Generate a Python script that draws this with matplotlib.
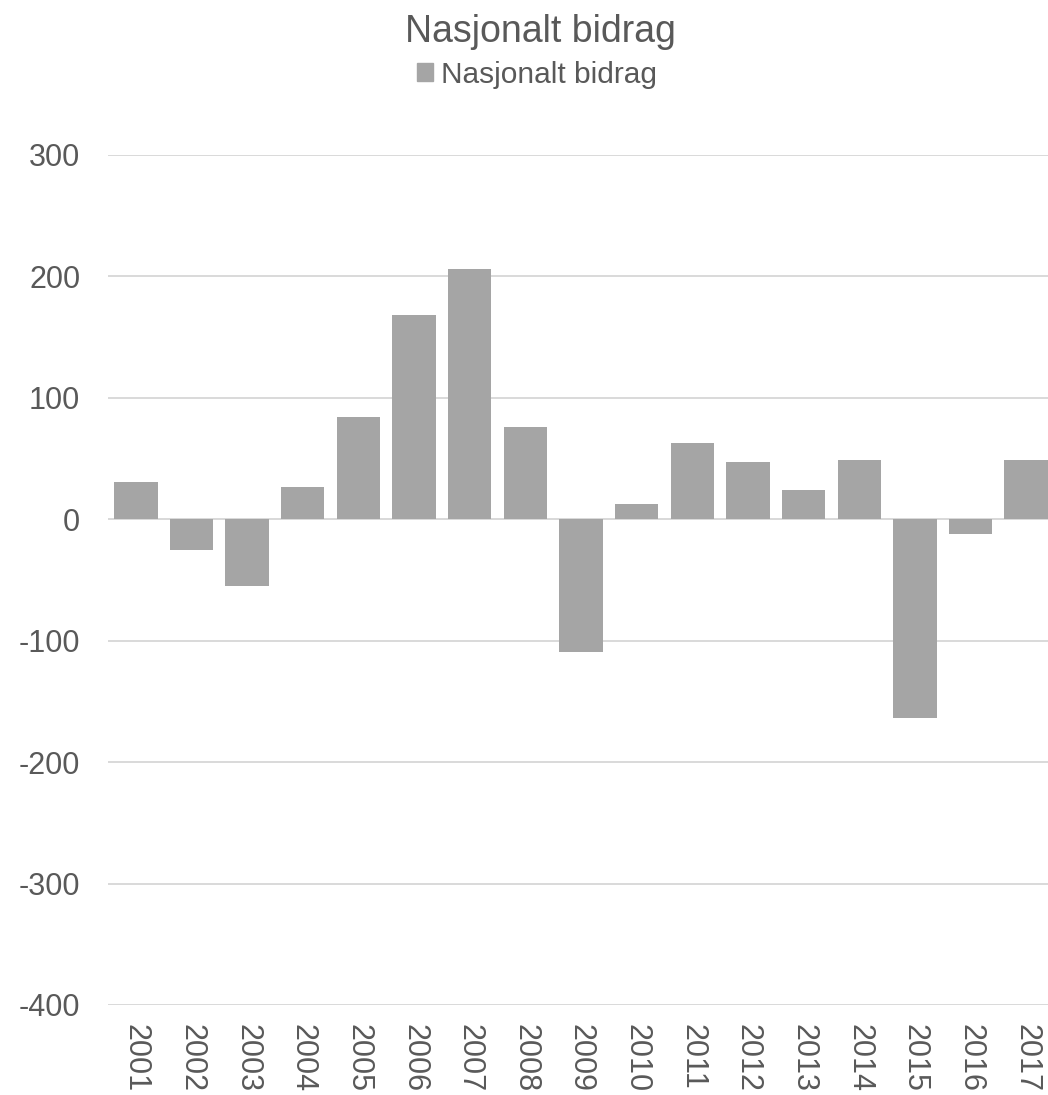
import matplotlib
matplotlib.use('Agg')
import matplotlib.pyplot as plt
import matplotlib.patches as mpatches

years = [str(y) for y in range(2001, 2018)]
values = [31, -25, -55, 27, 84, 168, 206, 76, -109, 13, 63, 47, 24, 49, -164, -12, 49]
yticks = [-400, -300, -200, -100, 0, 100, 200, 300]

plt.rcParams['font.family'] = ['Liberation Sans', 'DejaVu Sans']
txt = '#595959'
bar_col = '#A5A5A5'

fig = plt.figure(figsize=(10.48, 10.95), dpi=100)
W, H = 1048, 1095
ax = fig.add_axes([108/W, 1-1005/H, (1054-108)/W, (1005-155)/H])

x = list(range(len(years)))
ax.bar(x, values, width=0.78, color=bar_col, zorder=3)

ax.set_xlim(-0.5, len(years)-0.5)
ax.set_ylim(-400, 300)
ax.set_yticks(yticks)
ax.set_yticklabels([str(v) for v in yticks])
ax.set_xticks(x)
ax.set_xticklabels(years, rotation=-90, va='top', ha='center')
ax.yaxis.grid(True, color='#D9D9D9', linewidth=1.4, zorder=0)
ax.tick_params(axis='both', length=0, labelsize=22, colors=txt)
ax.tick_params(axis='y', pad=20)
ax.tick_params(axis='x', pad=14)
for s in ax.spines.values():
    s.set_visible(False)
ax.axhline(0, color='#D9D9D9', linewidth=1.4, zorder=2)

fig.text(540/W, 1-32/H, 'Nasjonalt bidrag', ha='center', va='center', fontsize=27, color=txt)
handle = mpatches.Patch(color=bar_col, label='Nasjonalt bidrag')
fig.legend(handles=[handle], loc='center', bbox_to_anchor=(537/W, 1-75/H), frameon=False,
           fontsize=21.5, labelcolor=txt, handlelength=0.55, handleheight=0.55, handletextpad=0.25)

fig.savefig('out.png', dpi=100)
